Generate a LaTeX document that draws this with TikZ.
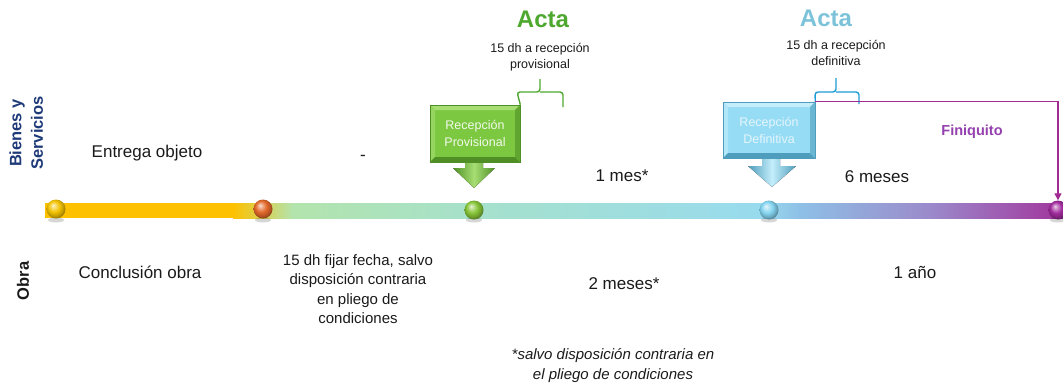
\documentclass[tikz,border=0pt]{standalone}
\usepackage{fontspec}
\setmainfont{Liberation Sans}
\usetikzlibrary{calc,arrows.meta}
\definecolor{cY}{HTML}{FDC100}
\definecolor{cG1}{HTML}{B3E4AD}
\definecolor{cG2}{HTML}{A6E1CB}
\definecolor{cB1}{HTML}{98DBEE}
\definecolor{cB2}{HTML}{8EC0E6}
\definecolor{cP1}{HTML}{9B8ACB}
\definecolor{cP2}{HTML}{A1359C}
\definecolor{navy}{HTML}{1F3A78}
\definecolor{txt}{HTML}{1A1A1A}
\definecolor{actaG}{HTML}{4EA72E}
\definecolor{actaB}{HTML}{7CC3DA}
\definecolor{braceB}{HTML}{1E9BD7}
\definecolor{purp}{HTML}{A02B93}
\definecolor{finq}{HTML}{9440AE}
\definecolor{gMain}{HTML}{7DC841}
\definecolor{gLight}{HTML}{A6DE73}
\definecolor{gDark}{HTML}{4F8F26}
\definecolor{bMain}{HTML}{96DCF4}
\definecolor{bLight}{HTML}{C4EEFB}
\definecolor{bDark}{HTML}{4F9DBC}
\definecolor{ballY}{HTML}{F2C200}
\definecolor{ballO}{HTML}{E2682A}
\definecolor{ballG}{HTML}{86C437}
\definecolor{ballB}{HTML}{84D4F0}
\definecolor{ballP}{HTML}{A02B9C}
\makeatletter
\pgfdeclareradialshading[tikz@ball]{shinyball}{\pgfqpoint{-8bp}{10bp}}{%
  color(0bp)=(tikz@ball!20!white); color(6bp)=(tikz@ball!55!white);
  color(15bp)=(tikz@ball); color(23bp)=(tikz@ball!80!black);
  color(30bp)=(tikz@ball!55!black); color(45bp)=(tikz@ball!45!black)}
\makeatother
\tikzset{
  lbl/.style={inner sep=0, text=txt, font=\fontsize{17}{20}\selectfont},
  sidelbl/.style={inner sep=0, text=navy, rotate=90, font=\bfseries\fontsize{16.5}{19}\selectfont},
  small/.style={inner sep=0, text=txt, align=center, font=\fontsize{12.5}{16}\selectfont},
  acta/.style={inner sep=0, font=\bfseries\fontsize{24}{28}\selectfont},
  ballnode/.style={circle, inner sep=0, minimum size=19, ball color=#1, shading=shinyball},
  bevelbox/.style args={#1/#2/#3}{rectangle, inner sep=0, align=center,
    fill=#1, draw=#3, line width=0.6,
    font=\fontsize{12.5}{17}\selectfont,
    path picture={
      \fill[#2] (path picture bounding box.north west) -- (path picture bounding box.north east)
        -- ($(path picture bounding box.north east)+(-5,5)$) -- ($(path picture bounding box.north west)+(5,5)$) -- cycle;
      \fill[#2!60!#1] (path picture bounding box.north west) -- ($(path picture bounding box.north west)+(5,5)$)
        -- ($(path picture bounding box.south west)+(5,-5)$) -- (path picture bounding box.south west) -- cycle;
      \fill[#3] (path picture bounding box.south west) -- ($(path picture bounding box.south west)+(5,-5)$)
        -- ($(path picture bounding box.south east)+(-5,-5)$) -- (path picture bounding box.south east) -- cycle;
      \fill[#3!60!#1] (path picture bounding box.north east) -- ($(path picture bounding box.north east)+(-5,5)$)
        -- ($(path picture bounding box.south east)+(-5,-5)$) -- (path picture bounding box.south east) -- cycle;
    }},
  bracestyle/.style={line width=1.4, rounded corners=3}
}
\begin{document}
\begin{tikzpicture}[x=1pt,y=-1pt]
\useasboundingbox (0,0) rectangle (1063,386);

% timeline bar
\fill[cY] (45,203) rectangle (233.5,218);
\fill[left color=cY, right color=cG1] (233,203) rectangle (293,218);
\fill[left color=cG1, right color=cG2] (292.5,203) rectangle (474,218);
\fill[left color=cG2, right color=cB1] (473.5,203) rectangle (760,218);
\fill[left color=cB1, right color=cB2] (759.5,203) rectangle (800,218);
\fill[left color=cB2, right color=cP1] (799.5,203) rectangle (930,218);
\fill[left color=cP1, right color=cP2] (929.5,203) rectangle (1063,218);

% ball shadows
\foreach \x in {56,263,474,769,1058}
  \fill[black, opacity=0.16] (\x,220) ellipse (8 and 2.5);

% balls
\node[ballnode=ballY] (b1) at (56,209) {};
\node[ballnode=ballO] (b2) at (263,209) {};
\node[ballnode=ballG] (b3) at (474,210) {};
\node[ballnode=ballB] (b4) at (769,210) {};
\node[ballnode=ballP] (b5) at (1058,210) {};

% side labels
\node[sidelbl] (bs1) at (17,133) {Bienes y};
\node[sidelbl] (bs2) at (37,133) {Servicios};
\node[sidelbl, text=txt] (obra) at (23,281) {Obra};

% upper texts
\node[lbl] (t1) at (147,153) {Entrega objeto};
\node[lbl] (t2) at (363,158) {-};
\node[lbl] (t3) at (622,176) {1 mes*};
\node[lbl] (t4) at (877,177) {6 meses};

% lower texts
\node[lbl] (t5) at (140,272) {Conclusión obra};
\node[inner sep=0, text=txt, align=center, font=\fontsize{15}{19.5}\selectfont] (t6) at (358,289)
  {15 dh fijar fecha, salvo\\disposición contraria\\en pliego de\\condiciones};
\node[lbl] (t7) at (624,284) {2 meses*};
\node[lbl] (t8) at (915,272) {1 año};
\node[inner sep=0, text=txt, align=center, font=\itshape\fontsize{15}{20}\selectfont] (t9) at (613,366)
  {*salvo disposición contraria en\\el pliego de condiciones};

% arrows below boxes
\fill[left color=gDark, right color=gDark, middle color=gLight]
  (465,158) -- (483,158) -- (483,168) -- (495,168) -- (474,188) -- (453,168) -- (465,168) -- cycle;
\fill[left color=bDark, right color=bDark, middle color=bLight]
  (762,155) -- (780,155) -- (780,166) -- (796,166) -- (772,187) -- (748,166) -- (762,166) -- cycle;

% boxes
\node[bevelbox=gMain/gLight/gDark, minimum width=90, minimum height=57, text=white!90!gMain] (rp) at (475,133.5)
  {Recepción\\Provisional};
\node[bevelbox=bMain/bLight/bDark, minimum width=92, minimum height=56, text=white!75!bMain] (rd) at (769,130)
  {Recepción\\Definitiva};

% Acta labels
\node[acta, text=actaG] (a1) at (543,19) {Acta};
\node[small] (s1) at (540,57) {15 dh a recepción\\provisional};
\node[acta, text=actaB] (a2) at (826,18) {Acta};
\node[small] (s2) at (836,53) {15 dh a recepción\\definitiva};

% braces
\coordinate (gbR) at (563,107);
\draw[bracestyle, actaG] (rp.north east) -- (517,92) -- (540,92) -- (540,79);
\draw[bracestyle, actaG] (540,92) -- (563,92) -- (gbR);
\coordinate (bbR) at (859,104);
\draw[bracestyle, braceB] (rd.north east) -- (815,92) -- (836,92) -- (836,78);
\draw[bracestyle, braceB] (836,92) -- (859,92) -- (bbR);

% finiquito connector
\draw[purp, line width=1.3, -{Triangle[length=7,width=7]}] (rd.north east) -- (b5.north |- rd.north east) -- (b5.north);
\node[inner sep=0, text=finq, font=\bfseries\fontsize{14.5}{17}\selectfont] (fq) at (972,132) {Finiquito};
\end{tikzpicture}
\end{document}
